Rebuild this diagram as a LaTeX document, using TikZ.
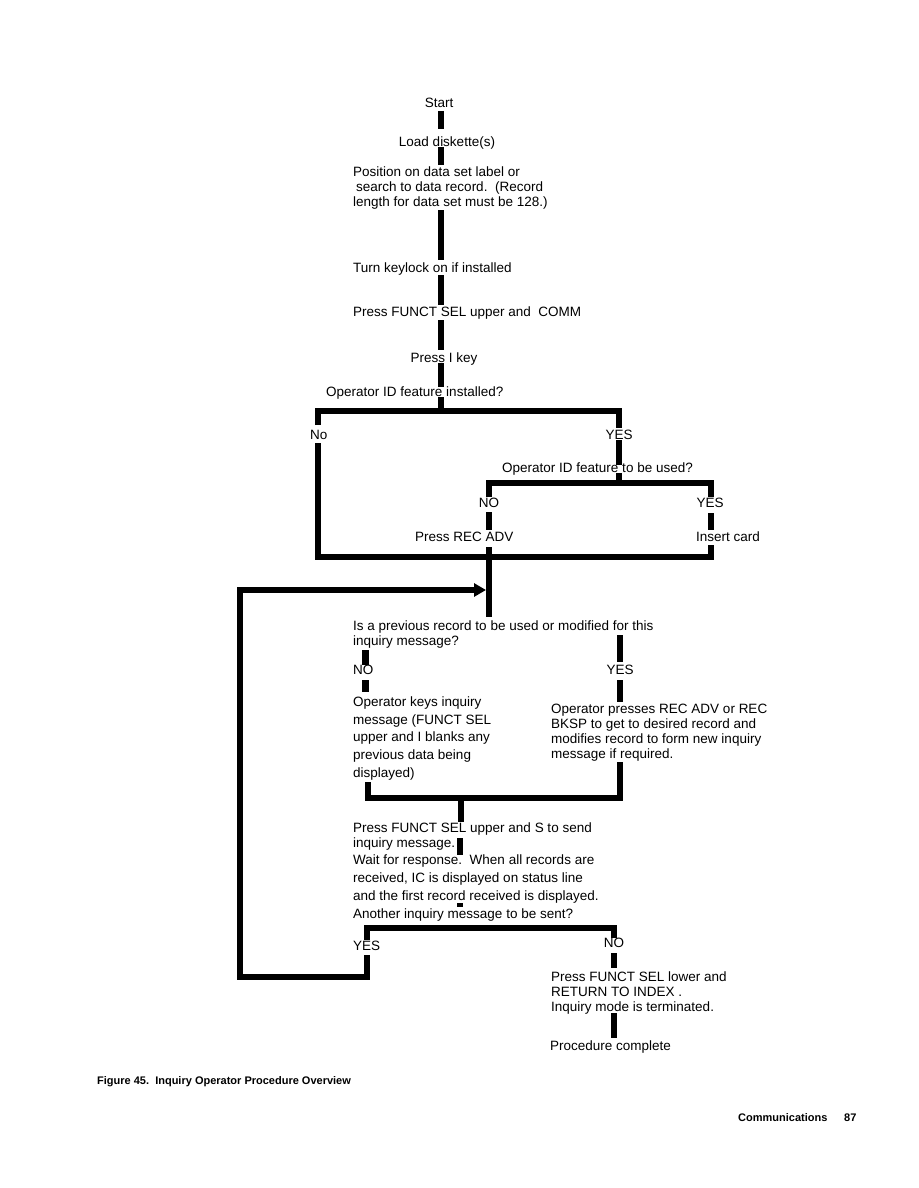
\documentclass[tikz,border=0pt]{standalone}
\usepackage{fontspec}
\setmainfont{Liberation Sans}
\usetikzlibrary{arrows.meta}
\begin{document}
\begin{tikzpicture}[x=1pt,y=-1pt,
  bar/.style={line width=6.5pt, line join=miter},
  txt/.style={inner sep=0pt, font=\fontsize{13.5}{15}\selectfont, anchor=base west, align=left},
  ctxt/.style={inner sep=0pt, font=\fontsize{13.5}{15}\selectfont, anchor=base},
  foot/.style={inner sep=0pt, anchor=base west, font=\fontsize{11}{13}\selectfont\bfseries}]
\fill[white] (0,0) rectangle (918,1188);
\useasboundingbox (0,0) rectangle (918,1188);
% texts (multi-line nodes are placed by the baseline of their last line)
\node[ctxt] (start) at (439,107.5) {Start};
\node[ctxt] (load) at (447,146.5) {Load diskette(s)};
\node[txt] (pos) at (353,206.5) {Position on data set label or\\\hspace*{3pt}search to data record.\ \ (Record\\length for data set must be 128.)};
\node[txt] (turn) at (353,272.5) {Turn keylock on if installed};
\node[txt] (funct) at (353,316.5) {Press FUNCT SEL upper and\ \ COMM};
\node[ctxt] (ikey) at (444,362.5) {Press I key};
\node[txt] (q1) at (326,396.5) {Operator ID feature installed?};
\node[txt] (no1) at (310,439.5) {No};
\node[ctxt] (yes1) at (619,439.5) {YES};
\node[txt] (q2) at (502,472.5) {Operator ID feature to be used?};
\node[ctxt] (no2) at (489,507.5) {NO};
\node[ctxt] (yes2) at (710,507.5) {YES};
\node[txt] (recadv) at (415,541.5) {Press REC ADV};
\node[txt] (card) at (696,541.5) {Insert card};
\node[txt] (q3) at (353,645.5) {Is a previous record to be used or modified for this\\inquiry message?};
\node[txt] (no3) at (353,674.5) {NO};
\node[ctxt] (yes3) at (620,674.5) {YES};
\node[txt] (keys) at (353,777.3) {Operator keys inquiry\\[2.7pt]message (FUNCT SEL\\[2.7pt]upper and I blanks any\\[2.7pt]previous data being\\[2.7pt]displayed)};
\node[txt] (presses) at (551,758.5) {Operator presses REC ADV or REC\\BKSP to get to desired record and\\modifies record to form new inquiry\\message if required.};
\node[txt] (send) at (353,918.5) {Press FUNCT SEL upper and S to send\\inquiry message.\\[2pt]Wait for response.\ \ When all records are\\[3pt]received, IC is displayed on status line\\[3pt]and the first record received is displayed.\\[3pt]Another inquiry message to be sent?};
\node[txt] (yes4) at (353,950.5) {YES};
\node[ctxt] (no4) at (614,947.5) {NO};
\node[txt] (lower) at (551,1011.5) {Press FUNCT SEL lower and\\RETURN TO INDEX\ .\\Inquiry mode is terminated.};
\node[txt] (done) at (550,1050.5) {Procedure complete};
\node[foot] (cap) at (97,1084.5) {Figure 45.\ \ Inquiry Operator Procedure Overview};
\node[foot] (comm) at (738,1121) {Communications};
\node[foot] (page) at (844,1121) {87};
% coordinates
\coordinate (a1) at (441,111); \coordinate (z1) at (441,129);
\coordinate (a2) at (441,147); \coordinate (z2) at (441,165);
\coordinate (a3) at (441,210); \coordinate (z3) at (441,260);
\coordinate (a4) at (441,275); \coordinate (z4) at (441,305);
\coordinate (a5) at (441,320); \coordinate (z5) at (441,350);
\coordinate (a6) at (441,363); \coordinate (z6) at (441,387);
\coordinate (a7) at (441,397); \coordinate (j1) at (441,411);
\coordinate (h1a) at (318,425); \coordinate (h1b) at (318,411);
\coordinate (h1c) at (619,411); \coordinate (h1d) at (619,428);
\coordinate (a8) at (619,440); \coordinate (z8) at (619,465);
\coordinate (a9) at (619,473); \coordinate (j2) at (619,483);
\coordinate (h2a) at (489,497); \coordinate (h2b) at (489,483);
\coordinate (h2c) at (711,483); \coordinate (h2d) at (711,497);
\coordinate (a10) at (489,512); \coordinate (z10) at (489,530);
\coordinate (a11) at (711,513); \coordinate (z11) at (711,530);
\coordinate (h3a) at (318,443); \coordinate (h3b) at (318,557);
\coordinate (h3c) at (711,557); \coordinate (h3d) at (711,545);
\coordinate (a12) at (489,547); \coordinate (z12) at (489,617);
\coordinate (l1) at (367,955); \coordinate (l2) at (367,977);
\coordinate (l3) at (240,977); \coordinate (l4) at (240,590);
\coordinate (l5) at (486,590);
\coordinate (a13) at (365.5,650); \coordinate (z13) at (365.5,665);
\coordinate (a14) at (365.5,680); \coordinate (z14) at (365.5,692);
\coordinate (a15) at (620,635); \coordinate (z15) at (620,662);
\coordinate (a16) at (620,680); \coordinate (z16) at (620,702);
\coordinate (h4a) at (368,782); \coordinate (h4b) at (368,798);
\coordinate (h4c) at (620,798); \coordinate (h4d) at (620,762);
\coordinate (a17) at (461,798); \coordinate (z17) at (461,822);
\coordinate (a18) at (460,838); \coordinate (z18) at (460,855);
\coordinate (a19) at (460,903); \coordinate (z19) at (460,907);
\coordinate (h5a) at (367,940); \coordinate (h5b) at (367,928);
\coordinate (h5c) at (614,928); \coordinate (h5d) at (614,938);
\coordinate (a20) at (614,953); \coordinate (z20) at (614,968);
\coordinate (a21) at (614,1013); \coordinate (z21) at (614,1038);
% bars
\foreach \i in {1,...,6,8,10,11,12,13,14,15,16,17,18,20,21} {\draw[bar] (a\i) -- (z\i);}
\draw[bar] (a19) -- (z19);
\draw[bar] (a7) -- (j1);
\draw[bar] (a9) -- (j2);
\draw[bar] (h1a) -- (h1b) -- (h1c) -- (h1d);
\draw[bar] (h2a) -- (h2b) -- (h2c) -- (h2d);
\draw[bar] (h3a) -- (h3b) -- (h3c) -- (h3d);
\draw[bar] (h4a) -- (h4b) -- (h4c) -- (h4d);
\draw[bar] (h5a) -- (h5b) -- (h5c) -- (h5d);
\draw[bar, line width=5.5pt, -{Triangle[length=12pt,width=13pt]}] (l1) -- (l2) -- (l3) -- (l4) -- (l5);
\end{tikzpicture}
\end{document}
